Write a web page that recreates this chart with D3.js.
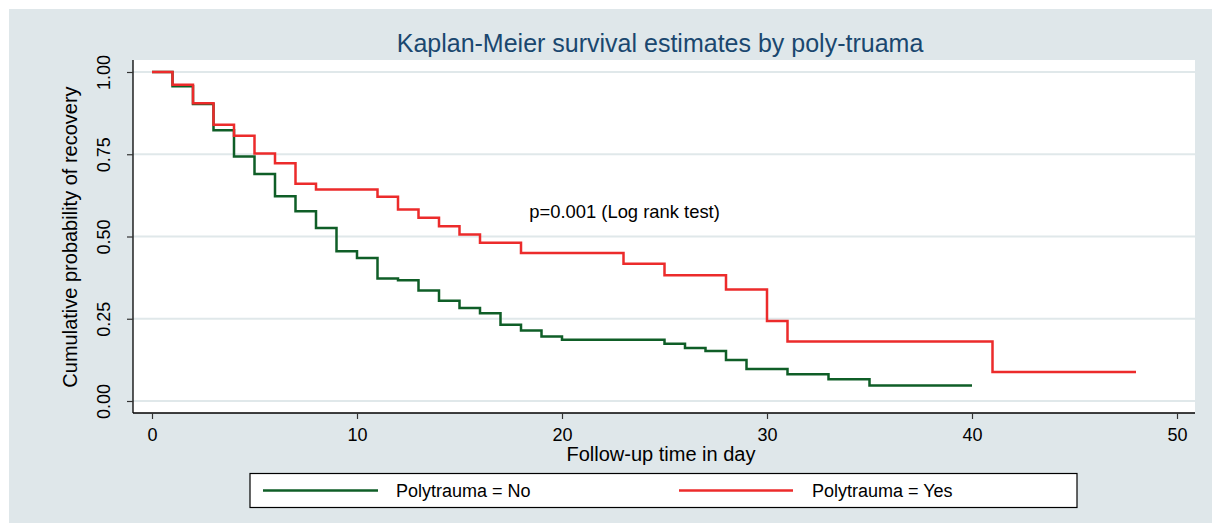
<!DOCTYPE html>
<html>
<head>
<meta charset="UTF-8" />
<title>Kaplan-Meier survival estimates by poly-truama</title>
<script src="https://cdn.jsdelivr.net/npm/d3@7"></script>
<style>
  html, body { margin: 0; padding: 0; background: #fff; }
  svg { display: block; font-family: "Liberation Sans", Arial, sans-serif; }
</style>
</head>
<body>
<svg id="chart"></svg>
<script>
// Polytrauma = No (step times in days and survival estimate)
const noTimes = [0, 1, 2, 3, 4, 5, 6, 7, 8, 9, 10, 11, 12, 13, 14, 15, 16, 17, 18, 19, 20, 25, 26, 27, 28, 29, 31, 33, 35, 40];
const noSurv  = [1, 0.957, 0.903, 0.823, 0.743, 0.69, 0.622, 0.577, 0.526, 0.455, 0.435, 0.372, 0.367, 0.336, 0.305, 0.283, 0.267, 0.232, 0.214, 0.196, 0.186, 0.174, 0.161, 0.152, 0.125, 0.097, 0.081, 0.066, 0.047, 0.047];

// Polytrauma = Yes
const yesTimes = [0, 1, 2, 3, 4, 5, 6, 7, 8, 11, 12, 13, 14, 15, 16, 18, 23, 25, 28, 30, 31, 41, 48];
const yesSurv  = [1, 0.961, 0.905, 0.84, 0.806, 0.752, 0.723, 0.66, 0.643, 0.621, 0.582, 0.557, 0.531, 0.506, 0.481, 0.45, 0.417, 0.382, 0.339, 0.243, 0.181, 0.088, 0.088];

const seriesNames = ["Polytrauma = No", "Polytrauma = Yes"];
const xTicks = [0, 10, 20, 30, 40, 50];
const yTicks = [0, 0.25, 0.5, 0.75, 1];

const width = 1212, height = 523;
const green = "#0f5e27", red = "#ec2b2b";

const svg = d3.select("#chart").attr("width", width).attr("height", height);

// outer background
svg.append("rect").attr("x", 9).attr("y", 9).attr("width", width - 9).attr("height", height - 9)
   .attr("fill", "#dfe7ea");

// plot region
const plot = { left: 133, right: 1195, top: 60, bottom: 413 };
svg.append("rect").attr("x", plot.left).attr("y", plot.top)
   .attr("width", plot.right - plot.left).attr("height", plot.bottom - plot.top)
   .attr("fill", "#fff");

const x = d3.scaleLinear().domain([0, 50]).range([152, 1177]);
const y = d3.scaleLinear().domain([0, 1]).range([401, 72]);

// grid
svg.append("g").selectAll("line").data(yTicks).enter().append("line")
   .attr("x1", plot.left).attr("x2", plot.right)
   .attr("y1", d => y(d)).attr("y2", d => y(d))
   .attr("stroke", "#e0e8ea").attr("stroke-width", 2);

// axes
const yAxis = svg.append("g").attr("transform", `translate(${plot.left},0)`)
   .call(d3.axisLeft(y).tickValues(yTicks).tickFormat(d3.format(".2f")).tickSize(6));
yAxis.select(".domain").attr("d", `M0,${plot.top}V${plot.bottom}`).attr("stroke", "#000").attr("stroke-width", 1.3);
yAxis.selectAll(".tick line").attr("stroke", "#333").attr("stroke-width", 1.2);
yAxis.selectAll(".tick text")
   .attr("font-size", 18).attr("fill", "#000")
   .attr("text-anchor", "middle")
   .attr("transform", "rotate(-90)")
   .attr("x", 0).attr("y", -23).attr("dy", "0");

const xAxis = svg.append("g").attr("transform", `translate(0,${plot.bottom})`)
   .call(d3.axisBottom(x).tickValues(xTicks).tickSize(6));
xAxis.select(".domain").attr("d", `M${plot.left},0H${plot.right}`).attr("stroke", "#000").attr("stroke-width", 1.3);
xAxis.selectAll(".tick line").attr("stroke", "#333").attr("stroke-width", 1.2);
xAxis.selectAll(".tick text").attr("font-size", 18).attr("fill", "#000").attr("y", 15).attr("dy", "0.71em");

// lines
const line = d3.line().x(d => x(d[0])).y(d => y(d[1])).curve(d3.curveStepAfter);
const noData = noTimes.map((t, i) => [t, noSurv[i]]);
const yesData = yesTimes.map((t, i) => [t, yesSurv[i]]);

svg.append("path").datum(noData).attr("d", line)
   .attr("fill", "none").attr("stroke", green).attr("stroke-width", 2.5);
svg.append("path").datum(yesData).attr("d", line)
   .attr("fill", "none").attr("stroke", red).attr("stroke-width", 2.5);

// annotation
svg.append("text").attr("x", x(18.4)).attr("y", y(0.573) + 6)
   .attr("font-size", 18.4).attr("fill", "#000").text("p=0.001 (Log rank test)");

// titles
svg.append("text").attr("x", 660).attr("y", 52).attr("text-anchor", "middle")
   .attr("font-size", 25).attr("fill", "#1a476f")
   .text("Kaplan-Meier survival estimates by poly-truama");
svg.append("text").attr("x", 661).attr("y", 461).attr("text-anchor", "middle")
   .attr("font-size", 20).attr("fill", "#000").text("Follow-up time in day");
svg.append("text").attr("transform", "translate(77,237) rotate(-90)").attr("text-anchor", "middle")
   .attr("font-size", 20).attr("fill", "#000").text("Cumulative probability of recovery");

// legend
const legend = svg.append("g");
legend.append("rect").attr("x", 250).attr("y", 473.5).attr("width", 827).attr("height", 34)
   .attr("fill", "#fff").attr("stroke", "#000").attr("stroke-width", 1.2);
const legendItems = [
  { name: seriesNames[0], color: green, x1: 263, x2: 378, tx: 396 },
  { name: seriesNames[1], color: red, x1: 679, x2: 793, tx: 812 }
];
legendItems.forEach(it => {
  legend.append("line").attr("x1", it.x1).attr("x2", it.x2).attr("y1", 490.5).attr("y2", 490.5)
     .attr("stroke", it.color).attr("stroke-width", 2.5);
  legend.append("text").attr("x", it.tx).attr("y", 497).attr("font-size", 18).attr("fill", "#000").text(it.name);
});
</script>
</body>
</html>
